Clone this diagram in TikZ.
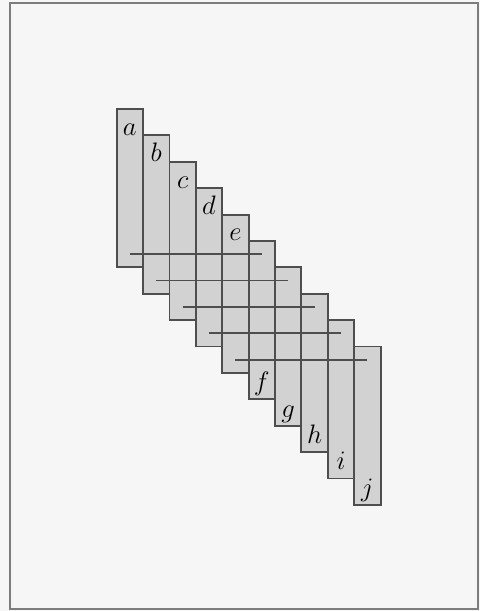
\documentclass[tikz,border=0pt]{standalone}
\begin{document}
\begin{tikzpicture}[x=0.5cm,y=0.5cm,line cap=butt,line join=miter]
  \definecolor{paper}{RGB}{246,246,246}
  \definecolor{frame}{RGB}{125,125,125}
  \definecolor{strip}{RGB}{210,210,210}
  \definecolor{edge}{RGB}{78,78,78}
  \tikzset{
    strip/.style={fill=strip,draw=edge,line width=1pt},
    stripname/.style={anchor=base,inner sep=0pt,font=\Large},
    bar/.style={draw=edge,line width=1pt}
  }

  % page and frame
  \useasboundingbox (-4.42,4.13) rectangle (13.76,-19.02);
  \fill[paper] (-4.42,4.13) rectangle (13.76,-19.02);
  \draw[frame,line width=1pt] (-4.04,4.02) rectangle (13.69,-18.94);

  % strips, one step right and down each
  \foreach \l [count=\i from 0] in {a,b,c,d,e,f,g,h,i,j} {
    \filldraw[strip] (\i,-\i) rectangle (\i+1,-\i-6);
  }
  % names on top for a to e, at the bottom for f to j
  \foreach \l [count=\i from 0] in {a,b,c,d,e} {
    \node[stripname] (name-\l) at (\i+0.5,-\i-1) {$\l$};
  }
  \foreach \l [count=\i from 5] in {f,g,h,i,j} {
    \node[stripname] (name-\l) at (\i+0.5,-\i-5.67) {$\l$};
  }

  % bars across five strips
  \foreach \k in {0,...,4} {
    \draw[bar] (\k+0.5,-\k-5.5) -- (\k+5.5,-\k-5.5);
  }
\end{tikzpicture}
\end{document}
